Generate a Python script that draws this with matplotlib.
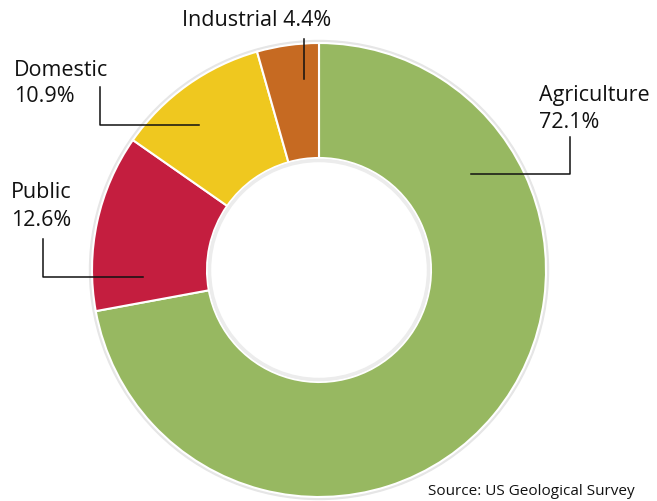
import matplotlib.pyplot as plt
from matplotlib.patches import Circle

labels = ["Agriculture", "Public", "Domestic", "Industrial"]
shares = [72.1, 12.6, 10.9, 4.4]
colors = ["#97b861", "#c41e3f", "#efc81f", "#c66a22"]

W, H = 657, 502
plt.rcParams['font.family'] = ['Open Sans', 'DejaVu Sans']

fig = plt.figure(figsize=(W / 100, H / 100), dpi=100)
ax = fig.add_axes([0, 0, 1, 1])

cx, cy = 319, H - 271
r_out, r_in = 227, 112

# soft shadow around the ring
ax.add_patch(Circle((cx, cy), r_out + 2.5, color='#e6e6e6', zorder=0))
ax.add_patch(Circle((cx, cy), r_in - 2.5, facecolor='white', edgecolor='#ececec', lw=2.5, zorder=3))

ax.pie(shares, colors=colors, startangle=90, counterclock=False,
       center=(cx, cy), radius=r_out, frame=True,
       wedgeprops=dict(width=r_out - r_in, edgecolor='white', linewidth=1.5))
ax.set_xlim(0, W)
ax.set_ylim(0, H)
ax.set_aspect('equal')
ax.axis('off')

def y(p):
    return H - p

fs = 15.5
txt = dict(fontsize=fs, color='#111111', va='center')
line = dict(color='#111111', lw=1.1)

# Industrial
ax.text(257, y(20), "Industrial 4.4%", ha='center', **txt)
ax.plot([304, 304], [y(40), y(80)], **line)

# Domestic
ax.text(14, y(70), "Domestic", ha='left', **txt)
ax.text(14, y(97), "10.9%", ha='left', **txt)
ax.plot([100, 100, 199], [y(88), y(126), y(126)], **line)

# Public
ax.text(11, y(193), "Public", ha='left', **txt)
ax.text(11, y(220), "12.6%", ha='left', **txt)
ax.plot([43, 43, 143], [y(240), y(278), y(278)], **line)

# Agriculture
ax.text(539, y(95), "Agriculture", ha='left', **txt)
ax.text(539, y(122), "72.1%", ha='left', **txt)
ax.plot([471, 570, 570], [y(175), y(175), y(138)], **line)

ax.text(428, y(492), "Source: US Geological Survey", fontsize=11,
        color='#111111', ha='left', va='center')

fig.savefig("out.png", dpi=100, facecolor='white')
